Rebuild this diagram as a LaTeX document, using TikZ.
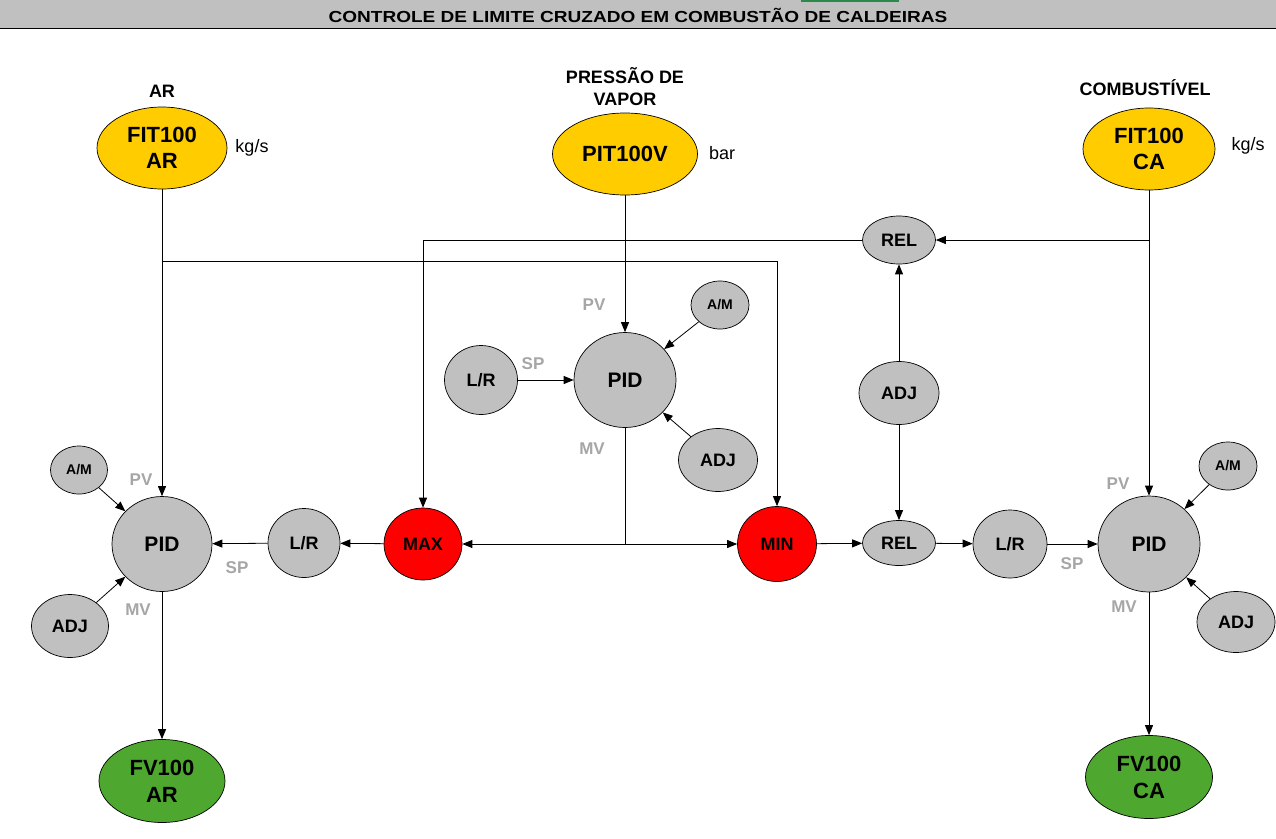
\documentclass[tikz,border=0pt]{standalone}
\usepackage{fontspec}
\setmainfont{Liberation Sans}
\usetikzlibrary{shapes.geometric,arrows.meta}
\definecolor{ngray}{HTML}{C0C0C0}
\definecolor{nyellow}{HTML}{FFCC00}
\definecolor{nred}{HTML}{FF0000}
\definecolor{ngreen}{HTML}{4EA72E}
\definecolor{lgray}{HTML}{A6A6A6}
\definecolor{topgreen}{HTML}{2A8A4A}
\newcommand{\myfs}[2]{\fontsize{#1}{#2}\selectfont}
\tikzset{
  base/.style={ellipse, draw=black, line width=0.7pt, inner sep=0pt, align=center, text=black},
  sz/.style 2 args={minimum width=#1pt, minimum height=#2pt},
  gnode/.style={base, fill=ngray, font=\myfs{18}{21}\bfseries},
  pidnode/.style={base, fill=ngray, font=\myfs{21}{24}\bfseries},
  smallnode/.style={base, fill=ngray, font=\myfs{14}{16}\bfseries},
  rnode/.style={base, fill=nred, font=\myfs{18}{21}\bfseries},
  ynode/.style={base, fill=nyellow, font=\myfs{22}{26}\bfseries},
  vnode/.style={base, fill=ngreen, font=\myfs{22}{27}\bfseries},
  head/.style={inner sep=0pt, align=center, font=\myfs{18}{22}\bfseries},
  unitlbl/.style={inner sep=0pt, font=\myfs{18}{21}},
  sig/.style={inner sep=0pt, text=lgray, font=\myfs{17}{20}\bfseries},
  conn/.style={draw=black, line width=0.8pt},
  arr/.style={conn, -{Triangle[length=10pt,width=8pt]}}
}
\begin{document}
\begin{tikzpicture}[x=1pt,y=-1pt]
\useasboundingbox (0,0) rectangle (1276,838);
\fill[white] (0,0) rectangle (1276,838);
% title bar
\fill[ngray] (0,0) rectangle (1276,28);
\fill[topgreen] (801,0) rectangle (899,2);
\draw[black, line width=1.5pt] (0,28.5) -- (1276,28.5);
\node[inner sep=0pt, font=\myfs{16}{18}\bfseries] (title) at (638,15) {\scalebox{1.19}[1]{CONTROLE DE LIMITE CRUZADO EM COMBUSTÃO DE CALDEIRAS}};

% headers and transmitters
\node[head] (tAR) at (162,91) {AR};
\node[ynode, sz={130}{82}] (fitar) at (162,148) {FIT100\\AR};
\node[unitlbl] (kgar) at (252,148) {kg/s};
\node[head] (tPV) at (625,87) {PRESSÃO DE\\VAPOR};
\node[ynode, sz={145}{82}] (pit) at (625,154) {PIT100V};
\node[unitlbl] (bar) at (722,153) {bar};
\node[head] (tCA) at (1145,88) {COMBUSTÍVEL};
\node[ynode, sz={132}{82}] (fitca) at (1149,149) {FIT100\\CA};
\node[unitlbl] (kgca) at (1248,146) {kg/s};

% left loop
\node[pidnode, sz={100}{95}] (pidL) at (162,544) {PID};
\node[gnode, sz={72}{69}] (lrL) at (304,543) {L/R};
\node[smallnode, sz={57}{48}] (amL) at (79,470) {A/M};
\node[gnode, sz={77}{63}] (adjL) at (70,626) {ADJ};
\node[rnode, sz={78}{72}] (maxN) at (423,544) {MAX};
\node[vnode, sz={126}{83}] (fvAR) at (162,781) {FV100\\AR};

% center loop
\node[pidnode, sz={102}{95}] (pidC) at (625,380) {PID};
\node[gnode, sz={73}{69}] (lrC) at (481,380) {L/R};
\node[smallnode, sz={58}{48}] (amC) at (720,305) {A/M};
\node[gnode, sz={79}{63}] (adjC) at (718,460) {ADJ};
\node[rnode, sz={79}{75}] (minN) at (777,544) {MIN};

% ratio part
\node[gnode, sz={73}{48}] (relU) at (899,240) {REL};
\node[gnode, sz={80}{63}] (adjM) at (899,393) {ADJ};
\node[gnode, sz={73}{45}] (relL) at (899,543) {REL};

% right loop
\node[gnode, sz={74}{68}] (lrR) at (1010,544) {L/R};
\node[pidnode, sz={102}{96}] (pidR) at (1149,544) {PID};
\node[smallnode, sz={58}{48}] (amR) at (1228,466) {A/M};
\node[gnode, sz={78}{61}] (adjR) at (1236,622) {ADJ};
\node[vnode, sz={127}{83}] (fvCA) at (1149,777) {FV100\\CA};

% signal labels
\node[sig] (pvL) at (141,480) {PV};
\node[sig] (mvL) at (138,610) {MV};
\node[sig] (spL) at (237,568) {SP};
\node[sig] (pvC) at (594,305) {PV};
\node[sig] (spC) at (533,364) {SP};
\node[sig] (mvC) at (592,449) {MV};
\node[sig] (pvR) at (1118,484) {PV};
\node[sig] (spR) at (1072,564) {SP};
\node[sig] (mvR) at (1124,607) {MV};

% junctions
\coordinate (jAR) at (162,261);
\coordinate (jCA) at (1149,240);
\coordinate (jC) at (625,544);

% connectors
\draw[arr] (fitar) -- (pidL);
\draw[arr] (jAR) -| (minN);
\draw[arr] (fitca) -- (pidR);
\draw[arr] (jCA) -- (relU);
\draw[arr] (relU) -| (maxN);
\draw[arr] (pit) -- (pidC);
\draw[conn] (pidC) -- (jC);
\draw[arr] (jC) -- (maxN);
\draw[arr] (jC) -- (minN);
\draw[arr] (minN) -- (relL);
\draw[arr] (relL) -- (lrR);
\draw[arr] (lrR) -- (pidR);
\draw[arr] (adjM) -- (relU);
\draw[arr] (adjM) -- (relL);
\draw[arr] (maxN) -- (lrL);
\draw[arr] (lrL) -- (pidL);
\draw[arr] (pidL) -- (fvAR);
\draw[arr] (pidR) -- (fvCA);
\draw[arr] (amL) -- (pidL);
\draw[arr] (adjL) -- (pidL);
\draw[arr] (lrC) -- (pidC);
\draw[arr] (amC) -- (pidC);
\draw[arr] (adjC) -- (pidC);
\draw[arr] (amR) -- (pidR);
\draw[arr] (adjR) -- (pidR);
\end{tikzpicture}
\end{document}
